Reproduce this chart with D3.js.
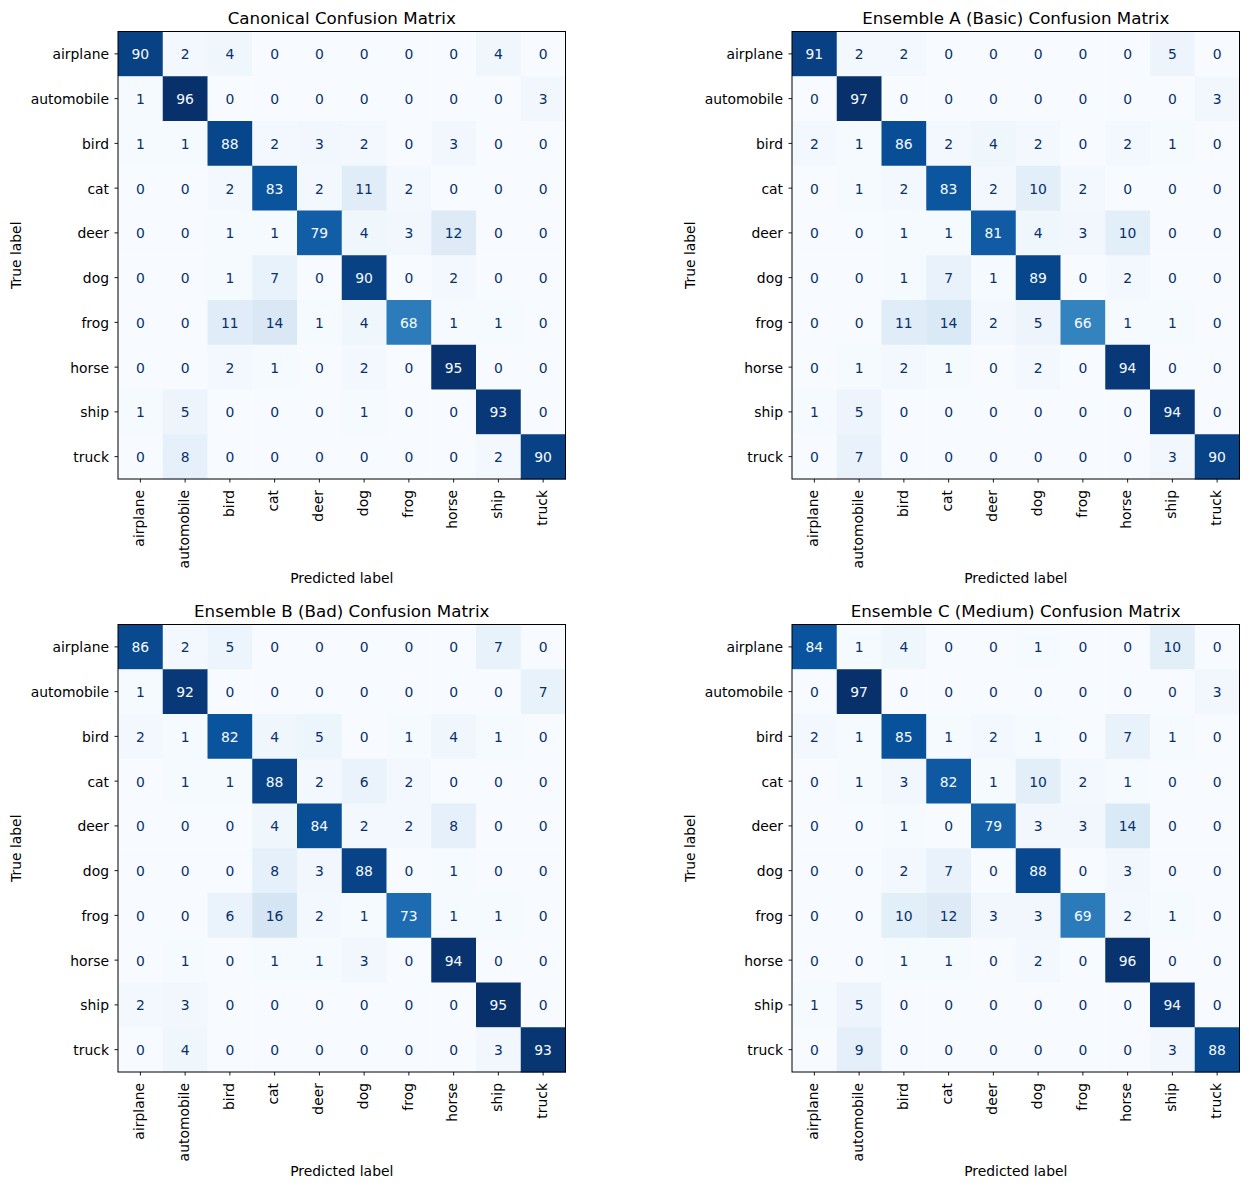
<!DOCTYPE html>
<html>
<head>
<meta charset="utf-8">
<script src="https://cdn.jsdelivr.net/npm/d3@7"></script>
<style>
  body { margin: 0; background: #fff; }
  text { font-family: "DejaVu Sans", sans-serif; }
</style>
</head>
<body>
<div class="canvas"></div>
<script>
const classes = ['airplane', 'automobile', 'bird', 'cat', 'deer', 'dog', 'frog', 'horse', 'ship', 'truck'];

const titles = [
    'Canonical Confusion Matrix',
    'Ensemble A (Basic) Confusion Matrix',
    'Ensemble B (Bad) Confusion Matrix',
    'Ensemble C (Medium) Confusion Matrix'
];

const canonical = [
    [90, 2, 4, 0, 0, 0, 0, 0, 4, 0],
    [1, 96, 0, 0, 0, 0, 0, 0, 0, 3],
    [1, 1, 88, 2, 3, 2, 0, 3, 0, 0],
    [0, 0, 2, 83, 2, 11, 2, 0, 0, 0],
    [0, 0, 1, 1, 79, 4, 3, 12, 0, 0],
    [0, 0, 1, 7, 0, 90, 0, 2, 0, 0],
    [0, 0, 11, 14, 1, 4, 68, 1, 1, 0],
    [0, 0, 2, 1, 0, 2, 0, 95, 0, 0],
    [1, 5, 0, 0, 0, 1, 0, 0, 93, 0],
    [0, 8, 0, 0, 0, 0, 0, 0, 2, 90]
];

const ensembleA = [
    [91, 2, 2, 0, 0, 0, 0, 0, 5, 0],
    [0, 97, 0, 0, 0, 0, 0, 0, 0, 3],
    [2, 1, 86, 2, 4, 2, 0, 2, 1, 0],
    [0, 1, 2, 83, 2, 10, 2, 0, 0, 0],
    [0, 0, 1, 1, 81, 4, 3, 10, 0, 0],
    [0, 0, 1, 7, 1, 89, 0, 2, 0, 0],
    [0, 0, 11, 14, 2, 5, 66, 1, 1, 0],
    [0, 1, 2, 1, 0, 2, 0, 94, 0, 0],
    [1, 5, 0, 0, 0, 0, 0, 0, 94, 0],
    [0, 7, 0, 0, 0, 0, 0, 0, 3, 90]
];

const ensembleB = [
    [86, 2, 5, 0, 0, 0, 0, 0, 7, 0],
    [1, 92, 0, 0, 0, 0, 0, 0, 0, 7],
    [2, 1, 82, 4, 5, 0, 1, 4, 1, 0],
    [0, 1, 1, 88, 2, 6, 2, 0, 0, 0],
    [0, 0, 0, 4, 84, 2, 2, 8, 0, 0],
    [0, 0, 0, 8, 3, 88, 0, 1, 0, 0],
    [0, 0, 6, 16, 2, 1, 73, 1, 1, 0],
    [0, 1, 0, 1, 1, 3, 0, 94, 0, 0],
    [2, 3, 0, 0, 0, 0, 0, 0, 95, 0],
    [0, 4, 0, 0, 0, 0, 0, 0, 3, 93]
];

const ensembleC = [
    [84, 1, 4, 0, 0, 1, 0, 0, 10, 0],
    [0, 97, 0, 0, 0, 0, 0, 0, 0, 3],
    [2, 1, 85, 1, 2, 1, 0, 7, 1, 0],
    [0, 1, 3, 82, 1, 10, 2, 1, 0, 0],
    [0, 0, 1, 0, 79, 3, 3, 14, 0, 0],
    [0, 0, 2, 7, 0, 88, 0, 3, 0, 0],
    [0, 0, 10, 12, 3, 3, 69, 2, 1, 0],
    [0, 0, 1, 1, 0, 2, 0, 96, 0, 0],
    [1, 5, 0, 0, 0, 0, 0, 0, 94, 0],
    [0, 9, 0, 0, 0, 0, 0, 0, 3, 88]
];

const matrices = [canonical, ensembleA, ensembleB, ensembleC];

// matplotlib "Blues" anchors
const blues = ['#f7fbff', '#deebf7', '#c6dbef', '#9ecae1', '#6baed6', '#4292c6', '#2171b5', '#08519c', '#08306b'];

const dims = { width: 1249, height: 1189 };
const size = 447.5;
const lefts = [118, 792];
const tops = [31.5, 624.5];

const svg = d3.select('.canvas')
    .append('svg')
    .attr('width', dims.width)
    .attr('height', dims.height);

const drawMatrix = (m, title, left, top) => {
    const g = svg.append('g')
        .attr('transform', `translate(${left}, ${top})`);

    const x = d3.scaleBand().domain(d3.range(classes.length)).range([0, size]);
    const y = d3.scaleBand().domain(d3.range(classes.length)).range([0, size]);

    const flat = m.flat();
    const vmin = d3.min(flat), vmax = d3.max(flat);
    const colour = d3.scaleLinear()
        .domain(blues.map((c, i) => vmin + (vmax - vmin) * i / (blues.length - 1)))
        .range(blues)
        .interpolate(d3.interpolateRgb);
    const thresh = (vmax + vmin) / 2;

    const cells = m.flatMap((row, i) => row.map((v, j) => ({ i, j, v })));

    g.selectAll('.cell')
        .data(cells)
        .enter()
        .append('rect')
        .attr('class', 'cell')
        .attr('x', d => x(d.j))
        .attr('y', d => y(d.i))
        .attr('width', x.bandwidth() + 0.5)
        .attr('height', y.bandwidth() + 0.5)
        .attr('fill', d => colour(d.v));

    g.selectAll('.val')
        .data(cells)
        .enter()
        .append('text')
        .attr('class', 'val')
        .attr('x', d => x(d.j) + x.bandwidth() / 2)
        .attr('y', d => y(d.i) + y.bandwidth() / 2)
        .attr('dy', '0.4em')
        .attr('text-anchor', 'middle')
        .attr('font-size', '13.9px')
        .attr('fill', d => d.v < thresh ? blues[8] : blues[0])
        .text(d => d.v);

    // frame
    g.append('rect')
        .attr('width', size)
        .attr('height', size)
        .attr('fill', 'none')
        .attr('stroke', '#000')
        .attr('stroke-width', 1);

    const xAxis = g.append('g')
        .attr('transform', `translate(0, ${size})`)
        .call(d3.axisBottom(x).tickSize(3.5).tickPadding(5).tickFormat(i => classes[i]));
    xAxis.select('.domain').remove();
    xAxis.selectAll('line').attr('stroke', '#000').attr('stroke-width', 0.9);
    xAxis.selectAll('text')
        .attr('font-size', '13.9px')
        .attr('fill', '#000')
        .attr('text-anchor', 'end')
        .attr('dy', '0.27em')
        .attr('transform', 'translate(0, 11) rotate(-90)')
        .attr('y', 0)
        .attr('x', 0);

    const yAxis = g.append('g')
        .call(d3.axisLeft(y).tickSize(3.5).tickPadding(5.5).tickFormat(i => classes[i]));
    yAxis.select('.domain').remove();
    yAxis.selectAll('line').attr('stroke', '#000').attr('stroke-width', 0.9);
    yAxis.selectAll('text')
        .attr('font-size', '13.9px')
        .attr('dy', '0.4em')
        .attr('fill', '#000');

    g.append('text')
        .attr('x', size / 2)
        .attr('y', -7.5)
        .attr('text-anchor', 'middle')
        .attr('font-size', '16.7px')
        .attr('fill', '#000')
        .text(title);

    g.append('text')
        .attr('x', size / 2)
        .attr('y', size + 104)
        .attr('text-anchor', 'middle')
        .attr('font-size', '13.9px')
        .attr('fill', '#000')
        .text('Predicted label');

    g.append('text')
        .attr('transform', `translate(${20.5 - left % 674}, ${size / 2}) rotate(-90)`)
        .attr('text-anchor', 'middle')
        .attr('font-size', '13.9px')
        .attr('fill', '#000')
        .text('True label');
};

matrices.forEach((m, k) => {
    drawMatrix(m, titles[k], lefts[k % 2], tops[Math.floor(k / 2)]);
});
</script>
</body>
</html>
